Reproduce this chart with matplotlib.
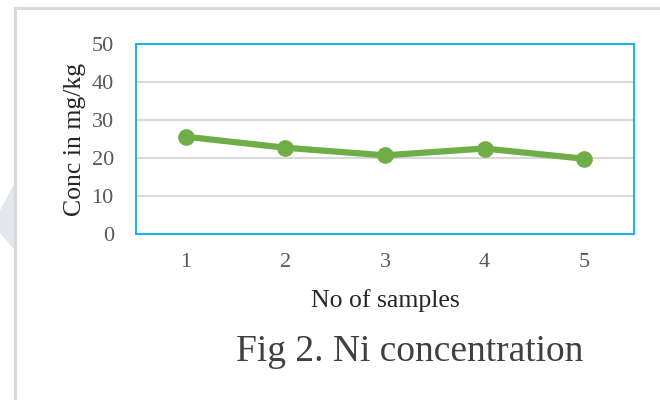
import matplotlib.pyplot as plt
from matplotlib.patches import Polygon
from matplotlib.lines import Line2D
import numpy as np

samples = ['1', '2', '3', '4', '5']
conc = [25.6, 22.7, 20.7, 22.5, 19.8]
yticks = [0, 10, 20, 30, 40, 50]

plt.rcParams['font.family'] = ['Liberation Serif', 'DejaVu Serif']

fig = plt.figure(figsize=(6.6, 4.0), dpi=100)
W, H = 660, 400

# plot area in pixels: left 136, right 634, top 44, bottom 234
ax = fig.add_axes([136 / W, 1 - 234 / H, (634 - 136) / W, (234 - 44) / H])

x = np.arange(1, len(samples) + 1)
ax.plot(x, conc, color='#70AD47', lw=4.5, marker='o', ms=11, zorder=3,
        solid_capstyle='round')

ax.set_xlim(0.5, 5.5)
ax.set_ylim(0, 50)
ax.set_yticks(yticks)
ax.set_xticks(x)
ax.set_xticklabels(samples)
ax.yaxis.grid(True, color='#D9D9D9', lw=1.5)
ax.set_axisbelow(True)
ax.tick_params(length=0, labelsize=16, labelcolor='#595959')
ax.tick_params(axis='y', pad=16)
ax.tick_params(axis='x', pad=14)
for s in ax.spines.values():
    s.set_color('#00B0F0')
    s.set_linewidth(1.3)

ax.set_ylabel('Conc in mg/kg', fontsize=18.5, color='#262626', labelpad=4)
ax.set_xlabel('No of samples', fontsize=18.5, color='#262626', labelpad=12)

fig.text(410 / W, 1 - 352 / H, 'Fig 2. Ni concentration', fontsize=27,
         color='#404040', ha='center', va='center')

# outer frame and watermark on the left edge
fig.add_artist(Line2D([15 / W, 15 / W], [0, 1 - 8 / H], color='#DADADA', lw=2.2,
                      transform=fig.transFigure))
fig.add_artist(Line2D([15 / W, 1], [1 - 8 / H, 1 - 8 / H], color='#DADADA', lw=2.2,
                      transform=fig.transFigure))
tri = np.array([[0, 212], [14, 185], [14, 248], [0, 232]], dtype=float)
tri[:, 0] /= W
tri[:, 1] = 1 - tri[:, 1] / H
fig.add_artist(Polygon(tri, closed=True, color='#E2E7EB', transform=fig.transFigure))

fig.savefig('out.png', dpi=100)
